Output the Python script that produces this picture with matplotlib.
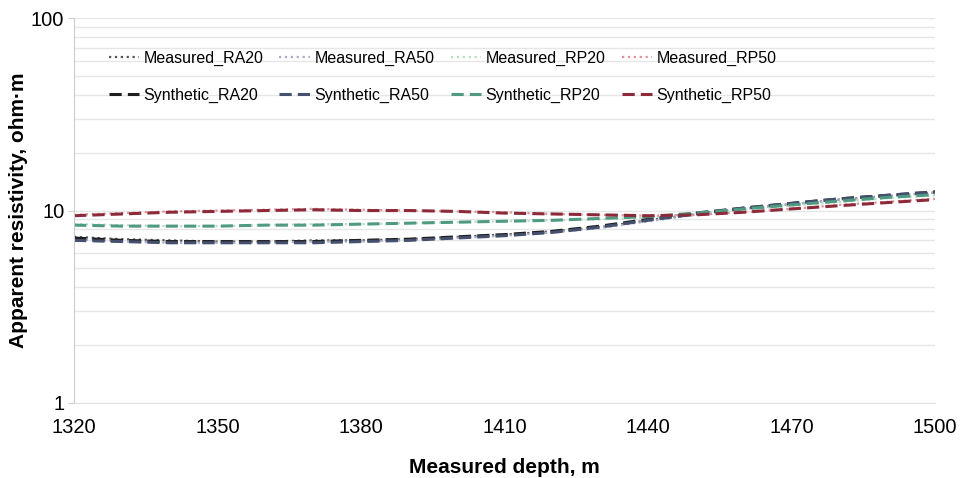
import matplotlib.pyplot as plt
from matplotlib.ticker import LogLocator, NullFormatter, FixedLocator

plt.rcParams['font.family'] = ['Liberation Sans', 'DejaVu Sans']

depth = [1320, 1330, 1340, 1350, 1360, 1370, 1380, 1390, 1400, 1410,
         1420, 1430, 1440, 1450, 1460, 1470, 1480, 1490, 1500]

meas_ra20 = [7.3, 7.1, 7.0, 6.9, 6.9, 7.0, 7.0, 7.1, 7.3, 7.5,
             7.8, 8.2, 8.9, 9.6, 10.2, 10.8, 11.4, 11.9, 12.4]
meas_ra50 = [7.1, 6.9, 6.8, 6.8, 6.8, 6.9, 6.9, 7.0, 7.2, 7.4,
             7.7, 8.1, 8.8, 9.5, 10.2, 10.8, 11.4, 11.9, 12.4]
meas_rp20 = [8.5, 8.4, 8.3, 8.3, 8.4, 8.5, 8.5, 8.6, 8.7, 8.8,
             8.9, 9.0, 9.2, 9.6, 10.1, 10.6, 11.1, 11.6, 12.0]
meas_rp50 = [9.5, 9.7, 9.9, 10.0, 10.1, 10.2, 10.1, 10.0, 9.9, 9.8,
             9.6, 9.5, 9.4, 9.5, 9.8, 10.2, 10.7, 11.1, 11.5]

syn_ra20 = [7.2, 7.0, 6.9, 6.9, 6.9, 6.9, 7.0, 7.1, 7.3, 7.5,
            7.8, 8.3, 9.0, 9.7, 10.3, 10.9, 11.5, 12.0, 12.5]
syn_ra50 = [7.0, 6.9, 6.8, 6.8, 6.8, 6.8, 6.9, 7.0, 7.2, 7.4,
            7.7, 8.2, 8.9, 9.6, 10.3, 10.9, 11.5, 12.0, 12.5]
syn_rp20 = [8.4, 8.3, 8.3, 8.3, 8.4, 8.4, 8.5, 8.6, 8.7, 8.8,
            8.9, 9.1, 9.3, 9.7, 10.2, 10.7, 11.2, 11.7, 12.1]
syn_rp50 = [9.4, 9.6, 9.8, 9.9, 10.0, 10.1, 10.0, 10.0, 9.9, 9.7,
            9.6, 9.5, 9.4, 9.5, 9.8, 10.2, 10.6, 11.0, 11.4]

xticks = [1320, 1350, 1380, 1410, 1440, 1470, 1500]

fig = plt.figure(figsize=(9.62, 4.78), dpi=100)
ax = fig.add_axes([0.077, 0.157, 0.895, 0.805])

dash = (0, (4, 2))
h_mra20, = ax.plot(depth, meas_ra20, color='#555555', ls=':', lw=1.6, label='Measured_RA20')
h_mra50, = ax.plot(depth, meas_ra50, color='#a9adc8', ls=':', lw=1.6, label='Measured_RA50')
h_mrp20, = ax.plot(depth, meas_rp20, color='#b6dcc4', ls=':', lw=1.6, label='Measured_RP20')
h_mrp50, = ax.plot(depth, meas_rp50, color='#e0909a', ls=':', lw=1.6, label='Measured_RP50')
h_sra20, = ax.plot(depth, syn_ra20, color='#1e1e1e', ls=dash, lw=2.2, label='Synthetic_RA20')
h_sra50, = ax.plot(depth, syn_ra50, color='#44506e', ls=dash, lw=2.2, label='Synthetic_RA50')
h_srp20, = ax.plot(depth, syn_rp20, color='#4f9a80', ls=dash, lw=2.2, label='Synthetic_RP20')
h_srp50, = ax.plot(depth, syn_rp50, color='#8c2a3a', ls=dash, lw=2.2, label='Synthetic_RP50')

ax.set_yscale('log')
ax.set_ylim(1, 100)
ax.set_xlim(1320, 1500)
ax.xaxis.set_major_locator(FixedLocator(xticks))
ax.yaxis.set_major_locator(FixedLocator([1, 10, 100]))
ax.set_yticklabels(['1', '10', '100'])
ax.yaxis.set_minor_locator(LogLocator(base=10, subs=range(2, 10)))
ax.yaxis.set_minor_formatter(NullFormatter())

ax.grid(True, which='both', axis='y', color='#e6e6e6', lw=1.0)
ax.set_axisbelow(True)

for side in ['top', 'right']:
    ax.spines[side].set_visible(False)
ax.spines['left'].set_color('#cccccc')
ax.spines['bottom'].set_color('#e0e0e0')
ax.tick_params(axis='both', which='major', labelsize=14.5, length=4, color='#cccccc', pad=3)
ax.tick_params(axis='y', which='minor', length=0)
ax.tick_params(axis='x', length=0, pad=11)

ax.set_xlabel('Measured depth, m', fontsize=15, fontweight='bold', labelpad=15)
ax.set_ylabel('Apparent resistivity, ohm·m', fontsize=15, fontweight='bold', labelpad=2)

# matplotlib fills legend columns first, so interleave to get two rows
handles = [h_mra20, h_sra20, h_mra50, h_sra50, h_mrp20, h_srp20, h_mrp50, h_srp50]
ax.legend(handles=handles, loc='upper left', bbox_to_anchor=(0.04, 0.915), ncol=4,
          frameon=False, fontsize=11.5, handlelength=1.9, handletextpad=0.3,
          columnspacing=1.0, labelspacing=1.35, borderpad=0, borderaxespad=0)

fig.savefig('out.png', dpi=100)
